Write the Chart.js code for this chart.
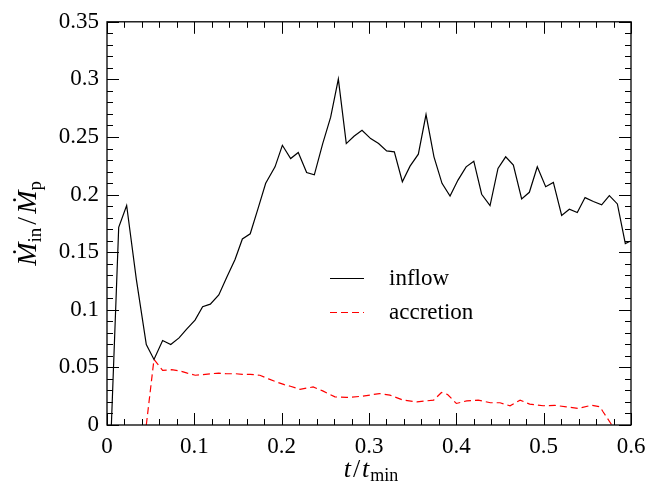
<!DOCTYPE html>
<html>
<head>
<meta charset="utf-8">
<script src="https://cdn.jsdelivr.net/npm/chart.js@4"></script>
<style>
  html, body { margin: 0; padding: 0; background: #fff; }
  #wrap { width: 658px; height: 488px; position: relative; }
</style>
</head>
<body>
<div id="wrap"><canvas id="c" width="658" height="488"></canvas></div>
<script>
// ---- data ----
const inflowT = [0.005, 0.0134, 0.0225, 0.0336, 0.045, 0.0538, 0.0637, 0.073, 0.0825, 0.0912, 0.1008, 0.1095, 0.1183, 0.128, 0.137, 0.1466, 0.155, 0.164, 0.173, 0.1817, 0.1924, 0.2008, 0.2103, 0.219, 0.2286, 0.2374, 0.247, 0.2561, 0.2649, 0.274, 0.2828, 0.292, 0.3019, 0.311, 0.3202, 0.329, 0.3382, 0.347, 0.3565, 0.3653, 0.3744, 0.3836, 0.3928, 0.4019, 0.4112, 0.42, 0.429, 0.4386, 0.4477, 0.4565, 0.4653, 0.4748, 0.4836, 0.4927, 0.5023, 0.5111, 0.5206, 0.5294, 0.5385, 0.5474, 0.5569, 0.5664, 0.5752, 0.5844, 0.5935, 0.599];
const inflowV = [0, 0.1716, 0.1905, 0.1264, 0.0698, 0.0569, 0.0733, 0.0698, 0.0756, 0.0833, 0.0911, 0.1026, 0.1049, 0.1129, 0.128, 0.1437, 0.1615, 0.166, 0.188, 0.2098, 0.2241, 0.2428, 0.2313, 0.2365, 0.2192, 0.2172, 0.2443, 0.2672, 0.3003, 0.2443, 0.2506, 0.2558, 0.2486, 0.2443, 0.2379, 0.2371, 0.2112, 0.2247, 0.2351, 0.2695, 0.2328, 0.2098, 0.1988, 0.2126, 0.2241, 0.229, 0.2003, 0.1905, 0.2227, 0.2328, 0.2256, 0.1963, 0.202, 0.2241, 0.2069, 0.2106, 0.1819, 0.1873, 0.1845, 0.1974, 0.194, 0.1911, 0.1991, 0.1919, 0.1575, 0.1595];

const accretionT = [0.045, 0.0538, 0.0637, 0.074, 0.083, 0.092, 0.101, 0.11, 0.119, 0.128, 0.137, 0.147, 0.155, 0.164, 0.175, 0.185, 0.194, 0.203, 0.21, 0.221, 0.236, 0.247, 0.261, 0.274, 0.293, 0.312, 0.324, 0.339, 0.355, 0.374, 0.383, 0.39, 0.4, 0.412, 0.425, 0.439, 0.45, 0.4615, 0.473, 0.484, 0.4996, 0.513, 0.526, 0.54, 0.555, 0.5645, 0.568, 0.578];
const accretionV = [0, 0.0569, 0.0474, 0.048, 0.047, 0.045, 0.0432, 0.0437, 0.0445, 0.045, 0.0445, 0.0445, 0.044, 0.044, 0.0432, 0.040, 0.0374, 0.035, 0.0336, 0.031, 0.033, 0.0296, 0.0244, 0.0239, 0.025, 0.0273, 0.0259, 0.0216, 0.0201, 0.0216, 0.0282, 0.0265, 0.0187, 0.021, 0.0216, 0.0193, 0.0193, 0.0167, 0.0216, 0.0181, 0.0167, 0.017, 0.0158, 0.0144, 0.0172, 0.0158, 0.0115, 0];

const seriesNames = ['inflow', 'accretion'];
const xTickLabels = ['0', '0.1', '0.2', '0.3', '0.4', '0.5', '0.6'];
const yTickLabels = ['0', '0.05', '0.1', '0.15', '0.2', '0.25', '0.3', '0.35'];

const SERIF = '"Liberation Serif", "Times New Roman", serif';

function zip(t, v) { return t.map((x, i) => ({ x: x, y: v[i] })); }

// frame + inward ticks on all four sides, axis titles, legend
const framePlugin = {
  id: 'frame',
  afterDraw(chart) {
    const { ctx, chartArea: a, scales } = chart;
    const xs = scales.x, ys = scales.y;
    ctx.save();
    ctx.strokeStyle = '#000';
    ctx.lineWidth = 1;
    const MAJ = 12, MIN = 6;
    ctx.beginPath();
    for (let i = 0; i <= 30; i++) {
      const v = i * 0.02;
      const px = Math.round(xs.getPixelForValue(v)) + 0.5;
      const len = (i % 5 === 0) ? MAJ : MIN;
      ctx.moveTo(px, a.bottom); ctx.lineTo(px, a.bottom - len);
      ctx.moveTo(px, a.top); ctx.lineTo(px, a.top + len);
    }
    for (let i = 0; i <= 35; i++) {
      const v = i * 0.01;
      const py = Math.round(ys.getPixelForValue(v)) + 0.5;
      const len = (i % 5 === 0) ? MAJ : MIN;
      ctx.moveTo(a.left, py); ctx.lineTo(a.left + len, py);
      ctx.moveTo(a.right, py); ctx.lineTo(a.right - len, py);
    }
    ctx.stroke();
    ctx.lineWidth = 1.3;
    ctx.strokeRect(a.left, a.top, a.right - a.left, a.bottom - a.top);

    // axis titles
    ctx.fillStyle = '#000';
    ctx.textBaseline = 'alphabetic';
    const cx = (a.left + a.right) / 2;
    const bigI = 'italic 26px ' + SERIF, big = '26px ' + SERIF, sub = '18px ' + SERIF;
    const parts = [
      { s: 't', f: bigI, dy: 0 }, { s: '/', f: big, dy: 0 }, { s: 't', f: bigI, dy: 0 }, { s: 'min', f: sub, dy: 4 }
    ];
    let w = 0;
    const gaps = [2, 2, 1, 0];
    parts.forEach((p, i) => { ctx.font = p.f; p.w = ctx.measureText(p.s).width; w += p.w + gaps[i]; });
    let x0 = cx - w / 2 + 2;
    const by = 477;
    parts.forEach((p, i) => { ctx.font = p.f; ctx.fillText(p.s, x0, by + p.dy); x0 += p.w + gaps[i]; });

    const cy = (a.top + a.bottom) / 2;
    const bigY = 'italic 28px ' + SERIF, bigYn = '28px ' + SERIF, subY = '19px ' + SERIF;
    const yparts = [
      { s: '\u1E40', f: bigY, dy: 0 }, { s: 'in', f: subY, dy: 5 }, { s: '/', f: bigYn, dy: 0 },
      { s: '\u1E40', f: bigY, dy: 0 }, { s: 'p', f: subY, dy: 5 }
    ];
    const ygaps = [0, 3, 3, 0, 0];
    let yw = 0;
    yparts.forEach((p, i) => { ctx.font = p.f; p.w = ctx.measureText(p.s).width; yw += p.w + ygaps[i]; });
    ctx.translate(36, cy);
    ctx.rotate(-Math.PI / 2);
    let t0 = -yw / 2;
    yparts.forEach((p, i) => { ctx.font = p.f; ctx.fillText(p.s, t0, p.dy); t0 += p.w + ygaps[i]; });
    ctx.restore();

    // legend
    ctx.save();
    const ds = chart.data.datasets;
    const rows = [278, 312];
    ds.forEach((d, i) => {
      ctx.strokeStyle = d.borderColor;
      ctx.lineWidth = d.borderWidth;
      ctx.setLineDash(d.borderDash || []);
      ctx.beginPath();
      ctx.moveTo(330, rows[i] + 0.5); ctx.lineTo(364, rows[i] + 0.5);
      ctx.stroke();
      ctx.setLineDash([]);
      ctx.fillStyle = '#000';
      ctx.font = '23px ' + SERIF;
      ctx.textBaseline = 'middle';
      ctx.fillText(d.label, 389, rows[i] + 1);
    });
    ctx.restore();
  }
};

new Chart(document.getElementById('c'), {
  type: 'scatter',
  data: {
    datasets: [
      { label: seriesNames[0], data: zip(inflowT, inflowV), showLine: true, borderColor: '#000', borderWidth: 1.2, pointRadius: 0, fill: false, tension: 0 },
      { label: seriesNames[1], data: zip(accretionT, accretionV), showLine: true, borderColor: '#ff0000', borderWidth: 1.2, borderDash: [7, 4], pointRadius: 0, fill: false, tension: 0 }
    ]
  },
  options: {
    responsive: false,
    animation: false,
    devicePixelRatio: 1,
    layout: { padding: { left: 0, right: 27, top: 19, bottom: 0 } },
    plugins: { legend: { display: false }, tooltip: { enabled: false } },
    scales: {
      x: {
        type: 'linear', min: 0, max: 0.6,
        grid: { display: false, drawTicks: false },
        border: { display: false },
        ticks: {
          stepSize: 0.1, padding: 8, color: '#000', maxRotation: 0,
          font: { family: SERIF, size: 23 },
          callback: (v, i) => xTickLabels[i]
        },
        afterFit: (s) => { s.height = 63; }
      },
      y: {
        type: 'linear', min: 0, max: 0.35,
        grid: { display: false, drawTicks: false },
        border: { display: false },
        ticks: {
          stepSize: 0.05, padding: 8, color: '#000',
          font: { family: SERIF, size: 23 },
          callback: (v, i) => yTickLabels[i]
        },
        afterFit: (s) => { s.width = 107; }
      }
    }
  },
  plugins: [framePlugin]
});
</script>
</body>
</html>
